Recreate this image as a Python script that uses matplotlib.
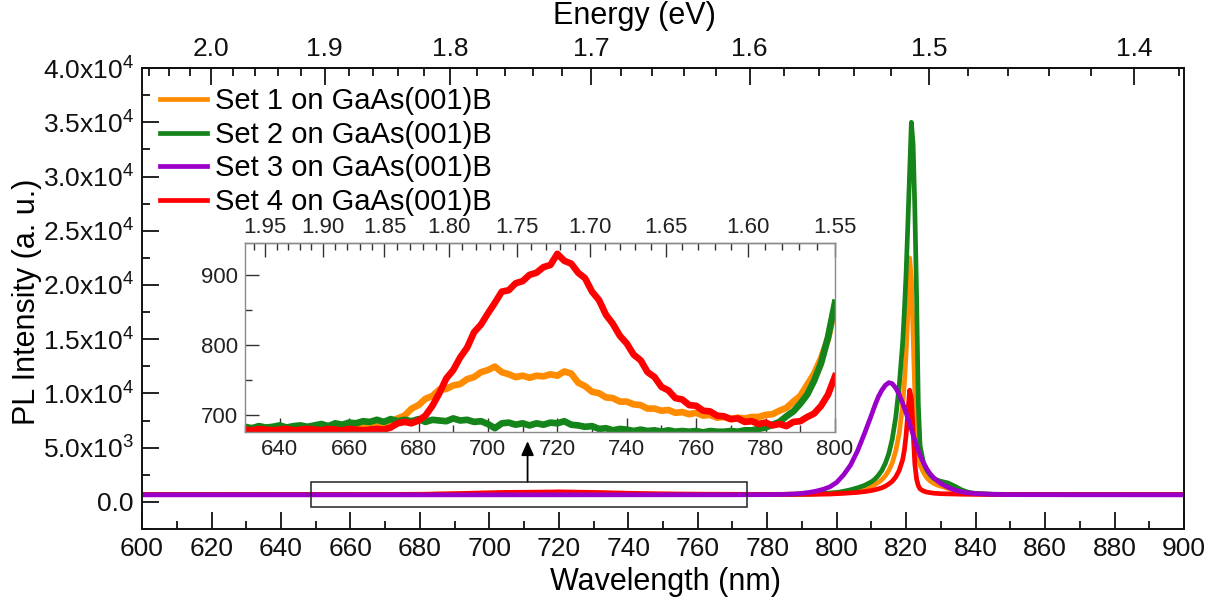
import numpy as np
import matplotlib
matplotlib.use("Agg")
import matplotlib.pyplot as plt
from matplotlib.patches import Rectangle
from matplotlib.ticker import MultipleLocator, FixedLocator

plt.rcParams['font.family'] = ['Liberation Sans', 'DejaVu Sans']
plt.rcParams['mathtext.fontset'] = 'custom'
plt.rcParams['mathtext.rm'] = 'Liberation Sans'
plt.rcParams['mathtext.it'] = 'Liberation Sans:italic'
plt.rcParams['mathtext.bf'] = 'Liberation Sans:bold'

HC = 1239.84  # eV*nm

# ---------------------------------------------------------------- data
series_labels = ['Set 1 on GaAs(001)B', 'Set 2 on GaAs(001)B',
                 'Set 3 on GaAs(001)B', 'Set 4 on GaAs(001)B']
series_colors = ['#FF8C00', '#15841A', '#9A00C8', '#FF0000']

# baseline far below the emission window (sets 1, 2, 4)
wl_left = [600, 615]
set1_left = [680, 681]
set2_left = [683, 682]
set4_left = [679, 680]

# 630-800 nm window (step 2 nm), sets 1, 2, 4
wl_window = np.arange(630, 801, 2)
set1_window = [680, 681, 679, 680, 681, 680, 679, 681, 680, 680, 681, 679, 680, 681,
               680, 682, 681, 683, 682, 684, 686,
               690, 695, 699, 709, 714, 723, 727, 736, 737, 742, 744, 751, 754, 761,
               764, 769, 761, 758, 754, 756, 753, 756, 755, 758, 756, 762, 759, 746,
               741, 733, 731, 725, 724, 719, 719, 715, 714, 709, 709, 706, 707, 703,
               704, 701, 703, 699, 700, 696, 697, 694, 696, 695, 697, 697, 700, 701,
               706, 710, 719, 727, 743, 759, 781, 809, 855]
set2_window = [683, 681, 684, 682, 683, 685, 682, 684, 685, 683, 685, 687, 684, 688,
               686, 689, 688, 691, 690, 693, 690,
               694, 691, 693, 691, 694, 690, 693, 692, 691, 695, 692, 693, 690, 691,
               687, 681, 688, 689, 686, 688, 685, 688, 686, 689, 688, 691, 686, 685,
               683, 684, 680, 681, 678, 680, 679, 677, 679, 677, 678, 676, 678, 676,
               677, 676, 677, 675, 677, 676, 676, 677, 676, 678, 678, 680, 682, 686,
               690, 698, 705, 716, 729, 749, 774, 811, 860]
set4_window = [679, 678, 680, 679, 678, 679, 680, 678, 679, 680, 679, 678, 680, 679,
               678, 680, 679, 678, 679, 680, 679,
               682, 688, 690, 688, 692, 699, 713, 731, 752, 764, 782, 796, 818, 829,
               845, 860, 876, 878, 888, 891, 900, 903, 911, 914, 930, 920, 916, 903,
               895, 876, 864, 843, 830, 813, 802, 786, 778, 761, 754, 740, 735, 724,
               722, 714, 713, 706, 705, 699, 698, 694, 695, 690, 691, 687, 689, 685,
               687, 684, 690, 691, 697, 702, 713, 729, 755]

# band-edge emission region, sets 1, 2, 4
wl_peak = [802, 804, 806, 808, 810, 811, 812, 813, 814, 815, 816, 817, 818, 819,
           819.5, 820, 820.5, 821, 821.5, 822, 822.5, 823, 823.5, 824,
           825, 826, 827, 828, 829, 830, 832, 834, 836, 838, 840, 845, 850, 860,
           880, 900]
set1_peak = [930, 1000, 1100, 1250, 1450, 1600, 1800, 2050, 2400, 2900, 3600, 4700,
             6300, 9000, 11000, 13800, 17500, 22500, 20500, 15500, 10000, 6000, 4200,
             3400, 2700, 2200, 1900, 1700, 1550, 1450, 1250, 1050, 900, 800, 750, 700,
             690, 685, 685, 685]
set2_peak = [980, 1120, 1300, 1520, 1850, 2100, 2450, 2900, 3550, 4450, 5800, 7800,
             10700, 14700, 17700, 21200, 25700, 30500, 35000, 33000, 27000, 19000, 9000,
             5200, 3600, 2900, 2450, 2150, 2000, 1900, 1750, 1450, 1100, 880, 780, 710,
             695, 690, 690, 690]
set4_peak = [790, 830, 880, 950, 1050, 1120, 1200, 1300, 1450, 1650, 1900, 2300,
             2900, 3900, 4800, 6200, 8200, 10300, 9500, 6500, 3500, 2100, 1500, 1200,
             1000, 900, 850, 800, 780, 760, 740, 720, 710, 700, 695, 690, 685, 682,
             680, 680]

# set 3 (whole range)
wl_set3 = [600, 700, 770, 780, 785, 788, 790, 792, 794, 796, 798, 800,
           802, 804, 806, 808, 810,
           811, 812, 813, 814, 815, 816, 817, 818, 819, 820, 821, 822, 823, 824,
           825, 826, 827, 828,
           830, 832, 834, 836, 838, 840, 845, 850, 870, 900]
set3 = [650, 650, 655, 670, 700, 740, 790, 870, 990, 1150, 1380, 1800,
        2500, 3400, 4700, 6300, 8000,
        8900, 9700, 10300, 10750, 11000, 10900, 10500, 9900, 9100, 8200, 7200, 6200,
        5200, 4300, 3600, 3000, 2550, 2200,
        1700, 1350, 1100, 930, 830, 770, 700, 670, 655, 650]

main_yticks = [0, 5000, 10000, 15000, 20000, 25000, 30000, 35000, 40000]
main_yticklabels = ['0.0', '5.0x10$^3$', '1.0x10$^4$', '1.5x10$^4$', '2.0x10$^4$',
                    '2.5x10$^4$', '3.0x10$^4$', '3.5x10$^4$', '4.0x10$^4$']
energy_ticks = [2.0, 1.9, 1.8, 1.7, 1.6, 1.5, 1.4]
inset_energy_ticks = [1.95, 1.90, 1.85, 1.80, 1.75, 1.70, 1.65, 1.60, 1.55]


def nm_to_ev(x):
    x = np.asarray(x, dtype=float)
    with np.errstate(divide='ignore', invalid='ignore'):
        return HC / x


# ---------------------------------------------------------------- figure
fig = plt.figure(figsize=(12.14, 6.06), dpi=100)
ax = fig.add_axes([0.117, 0.127, 0.8583, 0.7607])

wl_full = np.concatenate([wl_left, wl_window, wl_peak])
set1_full = np.concatenate([set1_left, set1_window, set1_peak])
set2_full = np.concatenate([set2_left, set2_window, set2_peak])
set4_full = np.concatenate([set4_left, set4_window, set4_peak])

lw_main = 3.4
h1, = ax.plot(wl_full, set1_full, color=series_colors[0], lw=lw_main, label=series_labels[0])
h2, = ax.plot(wl_full, set2_full, color=series_colors[1], lw=lw_main, label=series_labels[1])
h4, = ax.plot(wl_full, set4_full, color=series_colors[3], lw=lw_main, label=series_labels[3])
h3, = ax.plot(wl_set3, set3, color=series_colors[2], lw=lw_main, label=series_labels[2])

ax.set_xlim(600, 900)
ax.set_ylim(-2500, 40000)
ax.xaxis.set_major_locator(MultipleLocator(20))
ax.xaxis.set_minor_locator(MultipleLocator(10))
ax.set_yticks(main_yticks)
ax.set_yticklabels(main_yticklabels)
ax.yaxis.set_minor_locator(MultipleLocator(2500))
ax.tick_params(which='both', direction='in', top=False, right=False, width=1.3,
               labelsize=19, colors='#111111')
ax.tick_params(which='major', length=12, pad=6)
ax.tick_params(which='minor', length=6)
for s in ax.spines.values():
    s.set_linewidth(1.4)
    s.set_color('#111111')

sec = ax.secondary_xaxis('top', functions=(nm_to_ev, nm_to_ev))
sec.set_xticks(energy_ticks)
sec.set_xticklabels([f'{e:.1f}' for e in energy_ticks])
sec.xaxis.set_minor_locator(FixedLocator(np.round(np.arange(1.38, 2.07, 0.02), 2)))
sec.tick_params(which='both', direction='in', width=1.3, labelsize=19, colors='#111111')
sec.tick_params(which='major', length=12, pad=5)
sec.tick_params(which='minor', length=6)
sec.spines['top'].set_linewidth(1.4)

fig.text(665 / 1214, 1 - 582 / 606, 'Wavelength (nm)', ha='center', va='center', fontsize=22)
fig.text(634 / 1214, 1 - 16 / 606, 'Energy (eV)', ha='center', va='center', fontsize=22)
fig.text(27 / 1214, 1 - 302 / 606, 'PL Intensity (a. u.)', ha='center', va='center',
         fontsize=22, rotation=90)

ax.legend(handles=[h1, h2, h3, h4], loc='upper left', frameon=False, fontsize=21,
          handlelength=1.6, handletextpad=0.28, labelspacing=0.19,
          borderaxespad=0.0, borderpad=0.0,
          bbox_to_anchor=(0.0173, 0.958))

# zoom box and arrow towards the inset
ax.add_patch(Rectangle((648.6, -460), 774.2 - 648.6, 1842 + 460, fill=False,
                       ec='#222222', lw=1.1, zorder=5))
ax.annotate('', xy=(711, 5600), xytext=(711, 1842),
            arrowprops=dict(arrowstyle='-|>,head_length=0.85,head_width=0.38',
                            color='black', lw=1.3, shrinkA=0, shrinkB=0))

# ---------------------------------------------------------------- inset
axin = fig.add_axes([0.2018, 0.2876, 0.4860, 0.3109])
lw_in = 4.8
axin.plot(wl_window, set1_window, color=series_colors[0], lw=lw_in)
axin.plot(wl_window, set2_window, color=series_colors[1], lw=lw_in)
axin.plot(wl_window, set4_window, color=series_colors[3], lw=lw_in)
axin.set_xlim(630, 800)
axin.set_ylim(676, 945)
axin.xaxis.set_major_locator(FixedLocator([640, 660, 680, 700, 720, 740, 760, 780, 800]))
axin.xaxis.set_minor_locator(MultipleLocator(10))
axin.yaxis.set_major_locator(FixedLocator([700, 800, 900]))
axin.yaxis.set_minor_locator(MultipleLocator(50))
axin.tick_params(which='both', direction='in', top=False, right=False, width=1.0,
                 labelsize=16, colors='#333333', labelcolor='#222222')
axin.tick_params(which='major', length=10, pad=5)
axin.tick_params(which='minor', length=5)
for s in axin.spines.values():
    s.set_linewidth(1.0)
    s.set_color('#8a8a8a')

sec_in = axin.secondary_xaxis('top', functions=(nm_to_ev, nm_to_ev))
sec_in.set_xticks(inset_energy_ticks)
sec_in.set_xticklabels([f'{e:.2f}' for e in inset_energy_ticks])
sec_in.xaxis.set_minor_locator(FixedLocator(np.round(np.arange(1.55, 1.965, 0.01), 2)))
sec_in.tick_params(which='both', direction='in', width=1.0, labelsize=16,
                   colors='#333333', labelcolor='#222222')
sec_in.tick_params(which='major', length=10, pad=4)
sec_in.tick_params(which='minor', length=5)
sec_in.spines['top'].set_color('#8a8a8a')
sec_in.spines['top'].set_linewidth(1.0)

fig.savefig('out.png', dpi=100)
